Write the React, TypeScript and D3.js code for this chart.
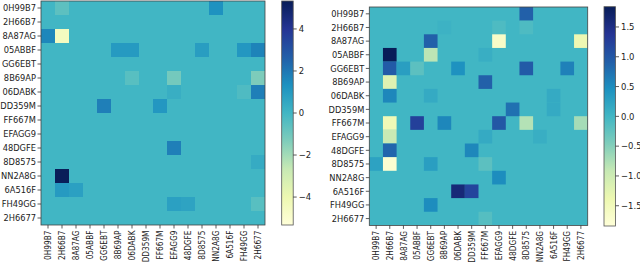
import React from 'react';
import * as d3 from 'd3';

const labels = ['0H99B7', '2H66B7', '8A87AG', '05ABBF', 'GG6EBT', '8B69AP', '06DABK', 'DD359M',
  'FF667M', 'EFAGG9', '48DGFE', '8D8575', 'NN2A8G', '6A516F', 'FH49GG', '2H6677'];

// [row, col, value], every other cell is 0
const leftCells: [number, number, number][] = [
  [0, 1, -0.6], [0, 12, 1.3],
  [2, 0, 1.6], [2, 1, -4.5],
  [3, 5, 1.0], [3, 6, 1.0], [3, 11, 0.9], [3, 14, 1.1], [3, 15, 1.7],
  [5, 6, -0.5], [5, 9, -1.1], [5, 15, -1.3],
  [6, 9, 0.3], [6, 14, -0.3], [6, 15, 1.8],
  [7, 4, 1.8], [7, 8, 1.1],
  [10, 9, 1.8],
  [11, 15, 0.4],
  [12, 1, 5.3],
  [13, 1, 1.0], [13, 2, 0.8],
  [14, 9, 0.8], [14, 10, 0.7], [14, 15, -0.5],
];

const rightCells: [number, number, number][] = [
  [0, 11, 0.9],
  [1, 5, 0.05], [1, 9, -0.1], [1, 11, -0.1],
  [2, 4, 0.9], [2, 9, -1.65], [2, 15, -1.4],
  [3, 1, 1.84], [3, 4, -0.85], [3, 8, 0.1],
  [4, 1, 0.95], [4, 2, 0.3], [4, 3, -0.2], [4, 6, 0.45], [4, 11, 0.95], [4, 14, 0.6],
  [5, 1, -1.2], [5, 8, 0.9],
  [6, 1, 0.55], [6, 4, 0.15], [6, 13, 0.15],
  [7, 10, 0.75], [7, 13, 0.15],
  [8, 1, -1.45], [8, 3, 1.25], [8, 5, 0.55], [8, 9, 1.0], [8, 11, -0.8], [8, 15, -0.7],
  [9, 1, -0.95], [9, 8, 0.15], [9, 12, 0.1],
  [10, 1, 0.85], [10, 7, 0.55],
  [11, 0, 0.25], [11, 1, -1.75], [11, 4, 0.3], [11, 8, -0.2],
  [12, 9, 0.5],
  [13, 6, 1.6], [13, 7, 1.2],
  [14, 4, 0.5],
  [15, 8, -0.15],
];

const leftTicks = [-4, -2, 0, 2, 4];
const rightTicks = [-1.5, -1.0, -0.5, 0.0, 0.5, 1.0, 1.5];

const ylgnbu = ['#ffffd9', '#edf8b1', '#c7e9b4', '#7fcdbb', '#41b6c4', '#1d91c0', '#225ea8', '#253494', '#081d58'];
const interp = d3.piecewise(d3.interpolateRgb, ylgnbu);

const font = 'DejaVu Sans, sans-serif';
const minus = (s: string) => s.replace('-', '\u2212');

type Props = {
  id: string;
  cells: [number, number, number][];
  vmax: number;
  ticks: number[];
  fmt: (v: number) => string;
  x0: number; y0: number; size: number;
  cbX: number; cbY0: number; cbY1: number;
};

function Heatmap({ id, cells, vmax, ticks, fmt, x0, y0, size, cbX, cbY0, cbY1 }: Props) {
  const x = d3.scaleBand().domain(labels).range([x0, x0 + size]);
  const y = d3.scaleBand().domain(labels).range([y0, y0 + size]);
  const color = d3.scaleSequential(interp).domain([-vmax, vmax]);
  const cb = d3.scaleLinear().domain([-vmax, vmax]).range([cbY1, cbY0]);
  const cbW = 11.5;
  const bw = x.bandwidth();

  return (
    <g>
      <defs>
        <linearGradient id={id} x1="0" y1="1" x2="0" y2="0">
          {ylgnbu.map((c, i) => (
            <stop key={i} offset={i / (ylgnbu.length - 1)} stopColor={c} />
          ))}
        </linearGradient>
      </defs>
      <rect x={x0} y={y0} width={size} height={size} fill={color(0)} />
      {cells.map(([r, c, v], i) => (
        <rect key={i} x={x(labels[c])} y={y(labels[r])} width={bw} height={bw} fill={color(v)} />
      ))}
      <rect x={x0} y={y0} width={size} height={size} fill="none" stroke="#444" strokeWidth={0.8} />
      {labels.map((l) => (
        <g key={'r' + l} transform={`translate(${x0},${(y(l) ?? 0) + bw / 2})`}>
          <line x1={-3.5} x2={0} stroke="#333" strokeWidth={0.8} />
          <text transform="translate(-5,0) scale(0.9,1)" dy="0.36em" textAnchor="end" fontSize={9.2} fontFamily={font} fill="#222">{l}</text>
        </g>
      ))}
      {labels.map((l) => (
        <g key={'c' + l} transform={`translate(${(x(l) ?? 0) + bw / 2},${y0 + size})`}>
          <line y1={0} y2={3.5} stroke="#333" strokeWidth={0.8} />
          <text transform="translate(0,5.5) rotate(-90) scale(0.86,1)" dy="0.36em" textAnchor="end" fontSize={8.6} fontFamily={font} fill="#222">{l}</text>
        </g>
      ))}
      <rect x={cbX} y={cbY0} width={cbW} height={cbY1 - cbY0} fill={`url(#${id})`} stroke="#555" strokeWidth={0.8} />
      {ticks.map((t) => (
        <g key={'t' + t} transform={`translate(${cbX + cbW},${cb(t)})`}>
          <line x1={0} x2={3.5} stroke="#333" strokeWidth={0.8} />
          <text transform="translate(5.5,0) scale(0.92,1)" dy="0.36em" fontSize={9.2} fontFamily={font} fill="#222">{minus(fmt(t))}</text>
        </g>
      ))}
    </g>
  );
}

export default function App() {
  return (
    <svg width={640} height={266} style={{ position: 'absolute', left: 0, top: 0, background: '#fff' }}>
      <Heatmap id="cbL" cells={leftCells} vmax={5.33} ticks={leftTicks} fmt={d3.format('d')}
        x0={41} y0={1} size={224} cbX={281.7} cbY0={1} cbY1={225} />
      <Heatmap id="cbR" cells={rightCells} vmax={1.84} ticks={rightTicks} fmt={d3.format('.1f')}
        x0={369.3} y0={7} size={218.4} cbX={604} cbY0={6.7} cbY1={226} />
    </svg>
  );
}
